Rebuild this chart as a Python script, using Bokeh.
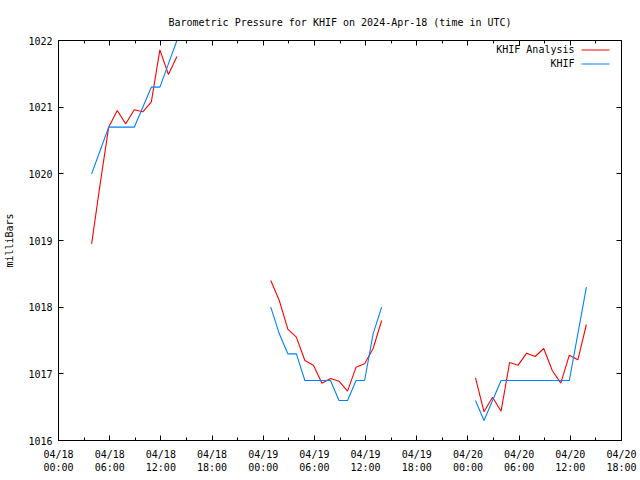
import numpy as np
from bokeh.plotting import figure
from bokeh.models import Range1d, FixedTicker, LinearAxis, Label, BoxAnnotation
from bokeh.embed import file_html
from bokeh.resources import INLINE

# observation hour (UTC, hours since 2024-04-18 00:00); observations taken at hh:53
obs_minute = 53
hours_1 = [3, 4, 5, 6, 7, 8, 9, 10, 11, 12, 13]
khif_1 = [1020.0, 1020.35, 1020.7, 1020.7, 1020.7, 1020.7, 1021.0, 1021.3, 1021.3, 1021.65, 1022.0]
analysis_1 = [1018.95, 1019.85, 1020.7, 1020.95, 1020.75, 1020.96, 1020.93, 1021.08, 1021.86, 1021.49, 1021.76]

hours_2 = [24, 25, 26, 27, 28, 29, 30, 31, 32, 33, 34, 35, 36, 37]
khif_2 = [1018.0, 1017.6, 1017.3, 1017.3, 1016.9, 1016.9, 1016.9, 1016.9, 1016.6, 1016.6, 1016.9, 1016.9, 1017.6, 1018.0]
analysis_2 = [1018.4, 1018.1, 1017.67, 1017.55, 1017.2, 1017.13, 1016.86, 1016.93, 1016.89, 1016.74, 1017.1, 1017.15, 1017.38, 1017.8]

hours_3 = [48, 49, 50, 51, 52, 53, 54, 55, 56, 57, 58, 59, 60, 61]
khif_3 = [1016.6, 1016.3, 1016.6, 1016.9, 1016.9, 1016.9, 1016.9, 1016.9, 1016.9, 1016.9, 1016.9, 1016.9, 1017.6, 1018.3]
analysis_3 = [1016.94, 1016.43, 1016.65, 1016.44, 1017.17, 1017.13, 1017.31, 1017.26, 1017.38, 1017.05, 1016.86, 1017.28, 1017.21, 1017.74]

x_ticks = [0, 6, 12, 18, 24, 30, 36, 42, 48, 54, 60, 66]
x_tick_labels = ["04/18\n00:00", "04/18\n06:00", "04/18\n12:00", "04/18\n18:00",
                 "04/19\n00:00", "04/19\n06:00", "04/19\n12:00", "04/19\n18:00",
                 "04/20\n00:00", "04/20\n06:00", "04/20\n12:00", "04/20\n18:00"]
x_minor = [3, 9, 15, 21, 27, 33, 39, 45, 51, 57, 63]
y_ticks = [1016, 1017, 1018, 1019, 1020, 1021, 1022]

title = "Barometric Pressure for KHIF on 2024-Apr-18 (time in UTC)"
FONT = "DejaVu Sans Mono"
RED = "#ff0000"
BLUE = "#0080ff"

p = figure(width=640, height=480, output_backend="svg", toolbar_location=None,
           x_range=Range1d(0, 66), y_range=Range1d(1016, 1022),
           min_border_left=58, min_border_right=19, min_border_top=40, min_border_bottom=40,
           title=title)
p.title.align = "center"
p.title.text_font = FONT
p.title.text_font_size = "10px"
p.title.text_font_style = "normal"
p.title.text_color = "black"
p.title.standoff = 26
p.grid.visible = False
p.outline_line_color = "black"
p.outline_line_alpha = 1.0
p.background_fill_color = "white"
p.border_fill_color = "white"

for hs, k, a in [(hours_1, khif_1, analysis_1), (hours_2, khif_2, analysis_2), (hours_3, khif_3, analysis_3)]:
    t = [h + obs_minute / 60 for h in hs]
    p.line(t, a, line_color=RED, line_width=1.1)
    p.line(t, k, line_color=BLUE, line_width=1.1)

xt = FixedTicker(ticks=x_ticks, minor_ticks=x_minor)
yt = FixedTicker(ticks=y_ticks, minor_ticks=[])

def style(ax):
    ax.axis_line_color = "black"
    ax.major_tick_in = 5
    ax.major_tick_out = 0
    ax.minor_tick_in = 3
    ax.minor_tick_out = 0
    ax.major_tick_line_color = "black"
    ax.minor_tick_line_color = "black"
    ax.major_label_text_font = FONT
    ax.major_label_text_font_size = "10px"
    ax.major_label_text_color = "black"

xa = p.xaxis[0]
xa.ticker = xt
style(xa)
xa.major_label_overrides = {t: l for t, l in zip(x_ticks, x_tick_labels)}
xa.major_label_standoff = 8

ya = p.yaxis[0]
ya.ticker = yt
style(ya)
ya.major_label_standoff = 6
ya.axis_label = "milliBars"
ya.axis_label_text_font = FONT
ya.axis_label_text_font_size = "10px"
ya.axis_label_text_font_style = "normal"
ya.axis_label_text_color = "black"
ya.axis_label_standoff = 10

top = LinearAxis(ticker=xt)
style(top)
top.major_label_overrides = {t: "" for t in x_ticks}
top.major_label_standoff = 0
p.add_layout(top, "above")

right = LinearAxis(ticker=yt)
style(right)
right.major_label_overrides = {t: "" for t in y_ticks}
right.major_label_standoff = 0
p.add_layout(right, "right")

# gnuplot-style key: text then line sample, top right
for i, (name, col) in enumerate([("KHIF Analysis", RED), ("KHIF", BLUE)]):
    yy = 391 - 14 * i
    p.add_layout(Label(x=516, y=yy, x_units="screen", y_units="screen", text=name,
                       text_font=FONT, text_font_size="10px", text_align="right",
                       text_baseline="middle", text_color="black"))
    p.add_layout(BoxAnnotation(left=523, right=551, bottom=yy - 1, top=yy,
                               left_units="screen", right_units="screen",
                               bottom_units="screen", top_units="screen",
                               fill_color=col, fill_alpha=1.0, line_color=None))

open("out.html", "w").write(file_html(p, INLINE))
